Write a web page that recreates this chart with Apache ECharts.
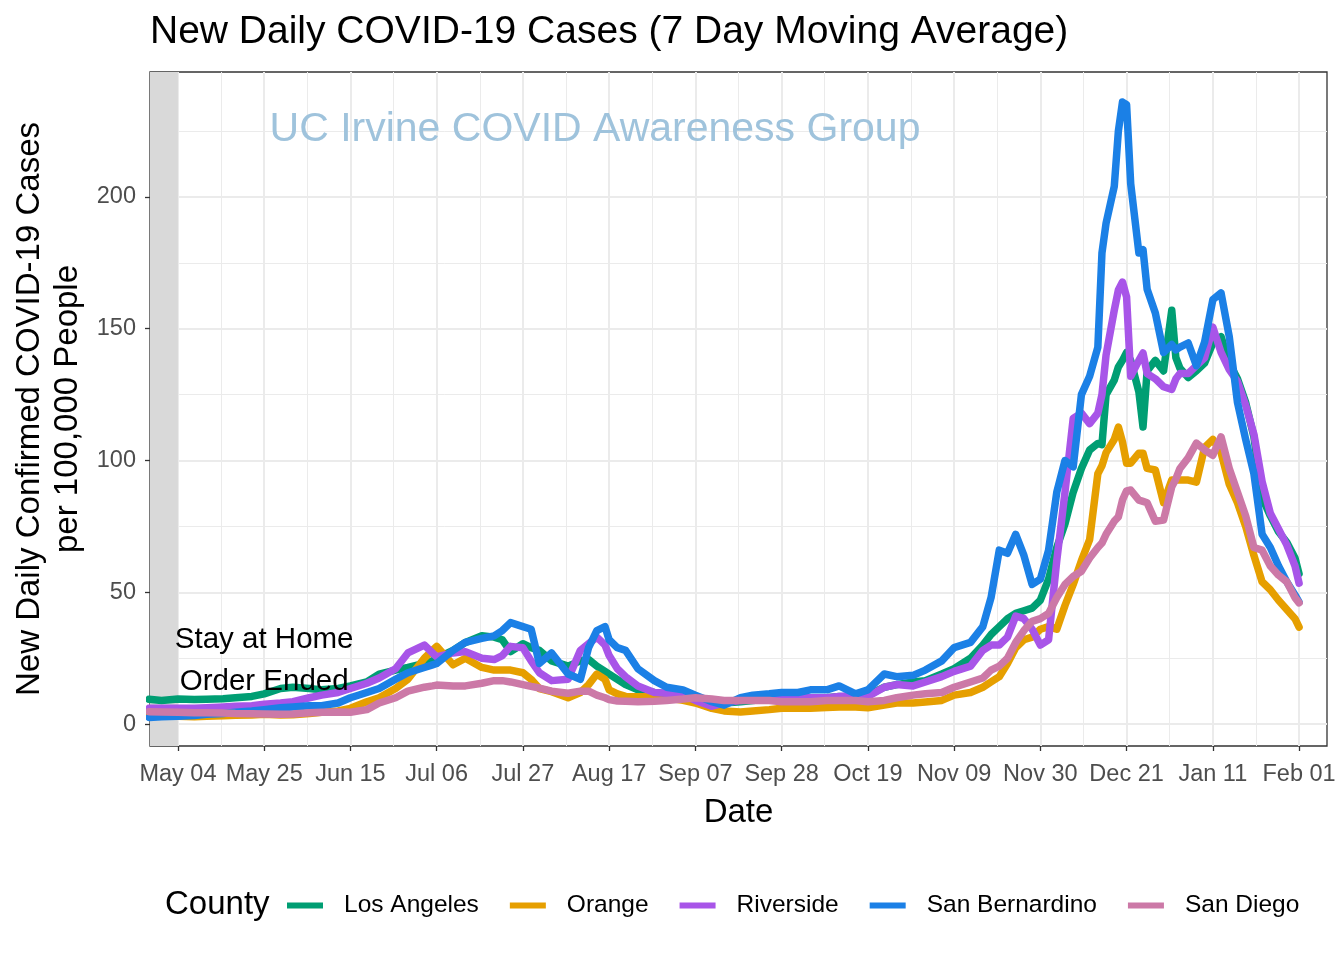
<!DOCTYPE html>
<html><head><meta charset="utf-8">
<script src="https://cdn.jsdelivr.net/npm/echarts@6/dist/echarts.min.js"></script>
<style>html,body{margin:0;padding:0;background:#fff}#c{width:1344px;height:960px}</style>
</head><body><div id="c"></div>
<script>
// Days since 2020-05-04 (x categories)
const days = [-7,-4,0,4,7,11,14,18,21,25,28,32,35,39,42,46,49,53,56,60,62,63,67,70,74,77,79,81,84,86,88,91,95,98,100,102,104,105,107,109,112,116,119,123,126,130,133,137,140,144,147,151,154,158,161,165,168,172,175,179,182,186,189,193,196,198,200,202,204,206,208,210,212,214,216,218,220,222,224,225,226,228,229,230,231,232,234,235,236,238,240,242,243,244,246,248,250,252,254,256,258,260,262,264,266,268,270,272,273];

const losAngeles = [9.4,9,9.5,9.3,9.4,9.6,10,10.5,11.5,13.5,
14,13.5,13,13.5,14.5,16,19,20.5,21.5,23,
24,25,28,31,33.5,33,32,27.5,30.5,29,
28,24,22,24,24.5,22,20,19,17,15,
13,12,11.5,10.5,9.5,8.5,8,8.5,9,9.5,
10,10,10,10,10.5,10,11,14,15,16,
16.5,19,21,25,30,34,37,40,42,43,
44,47,55,67,76,88,97,104,106.5,106,
125,130.5,135.5,138,141,138,126,112.7,134,138,
134,157,139,135,131.5,134,137,144.6,147,137,
131,122,109,86,79,73,69,63,57];

const orange = [3,3,3,2.8,3,3.2,3.4,3.5,3.7,3.5,
3.6,4,4.5,5,6,8.5,10,13.5,17,25,
28,29.5,22.5,25,21.5,20.5,20.5,20.5,19.5,17,
13.5,12.3,10,12,15,19,17,13,11.5,10.5,
10.4,10.4,10,9,8,6,5,4.6,5,5.5,
6,6,6,6.3,6.5,6.5,6.2,7.2,8,8,
8.4,9,11,12,14,16,18,23,29,32,
33,36,37,36,45,53,62,70,95,98,
103,108,112.7,107,99,99,102.8,102.8,97,96.4,
84,92.6,92.6,92.6,92.6,91.8,105,108,103,91,
84,75,64,54,51,47,43.5,40,36.8];

const riverside = [6,6,6,6,6.2,6.5,6.8,7,7.5,8,
8.5,10,11,12,13.5,15.5,17.5,21,27,30,
27,25.5,27,27.5,25,24.5,26,29.5,29,24,
19.5,16.5,17,28,30.5,33,30,26,21,18,
14.5,12,11.7,11,9,6.8,8,9,9.5,9.5,
10,10,10,10,10.5,11,10.5,14,15,14.5,
16,18,20,22,28,30,30,33,41,40,
36,30,32,62,88,116,118,114,118,125,
140,157,164.7,167.7,162,132,138,140.8,133,131,
128,127,131,133,133,136,139,150.6,141,134.5,
130,121,110,92,80,74,68,60,53.5];

const sanBernardino = [2.5,2.8,3,3.3,3.7,4,4.5,5,5.5,6.2,
6.5,7,7,8,10,12,13.5,17,19.5,21.5,
22.5,23,28,31,32.5,33.5,35.5,38.5,37,36,
23,27,19,17,29,35.5,37,32,29,28,
21,16.5,14,13,11,8.5,7.2,10,11,11.5,
12,12,13,13,14.5,11.5,13,19,18,18.5,
20.5,24,29,31,37,48,66,64.8,72,64,
53,55,66,88,100,97.6,125,132,143,178.7,
190,204,225,236,235,205,178.7,180,165,156,
141,144,142,143,144.6,136,145,161,163.6,147,
122,108,95,72,67,60,54,49,46.3];

const sanDiego = [4.7,4.6,4.5,4.3,4.3,4.2,4,3.9,3.8,3.7,
3.8,4.3,4.5,4.6,4.5,5.5,8,10,12.5,14,
14.5,14.8,14.5,14.5,15.5,16.5,16.5,16,15,14.3,
13.7,12.5,11.7,12.5,12.5,11,10,9.3,8.8,8.7,
8.5,8.7,9,9.5,10,9.5,9,9,9,9,
8.5,8.5,8.5,9,9,9,8.5,9,10,11,
11.5,12,14,16,17.5,20.5,22,25,31,35.5,
39,40,42,48,53,56,58,63,67,68.7,
72,77,78.6,85,88.5,88.8,85,84.5,84,77,
77.4,90,93,97,101,106.6,104,102,109,97,
88,79,67,66,60,56.5,54,48,46];

const counties = ['Los Angeles','Orange','Riverside','San Bernardino','San Diego'];
const seriesValues = [losAngeles, orange, riverside, sanBernardino, sanDiego];
const colors = ['#009E73','#E69F00','#A855E8','#1B80E6','#CC79A7'];

const xTickDays = [0,21,42,63,84,105,126,147,168,189,210,231,252,273];
const xTickLabels = ['May 04','May 25','Jun 15','Jul 06','Jul 27','Aug 17','Sep 07','Sep 28','Oct 19','Nov 09','Nov 30','Dec 21','Jan 11','Feb 01'];
const yTicks = [0,50,100,150,200];
const yMinorTicks = [25,75,125,175,225];

const X_MIN = -6.8, X_MAX = 279.8, Y_MIN = -8.3, Y_MAX = 247.4;
const xMinorTicks = xTickDays.map(d => d + 10.5).filter(d => d < X_MAX);
const FONT = '"Liberation Sans", Arial, Helvetica, sans-serif';

const chart = echarts.init(document.getElementById('c'));

const series = counties.map((name, i) => ({
  name, type: 'line', symbol: 'none', smooth: false, clip: true,
  xAxisIndex: 0, yAxisIndex: 0,
  lineStyle: { color: colors[i], width: 7.5, cap: 'round', join: 'round' },
  itemStyle: { color: colors[i] },
  data: days.map((d, k) => [d, seriesValues[i][k]])
}));

series[0].markArea = {
  silent: true,
  itemStyle: { color: '#d9d9d9' },
  data: [[{ xAxis: X_MIN }, { xAxis: 0 }]]
};
series[4].markPoint = {
  silent: true,
  symbol: 'circle', symbolSize: 0,
  label: {
    show: true, position: 'inside', formatter: 'Stay at Home\nOrder Ended',
    fontFamily: FONT, fontSize: 29.5, lineHeight: 42, color: '#000'
  },
  data: [{ coord: [21, 24] }]
};

const option = {
  animation: false,
  backgroundColor: '#fff',
  title: {
    text: 'New Daily COVID-19 Cases (7 Day Moving Average)',
    left: 150, top: 13, padding: 0,
    textStyle: { fontFamily: FONT, fontSize: 39, fontWeight: 'normal', color: '#000' }
  },
  grid: { left: 150, right: 17, top: 72, bottom: 214, show: true, borderColor: '#333333', borderWidth: 1.3, backgroundColor: 'transparent' },
  xAxis: [{
    type: 'value', min: X_MIN, max: X_MAX, position: 'bottom',
    axisLine: { show: false, onZero: false },
    axisTick: { show: true, inside: false, customValues: xTickDays, length: 5, lineStyle: { color: '#333333', width: 1.3 } },
    axisLabel: { customValues: xTickDays, interval: 0, hideOverlap: false, margin: 17,
      formatter: v => { const i = xTickDays.indexOf(v); return i >= 0 ? xTickLabels[i] : ''; },
      fontFamily: FONT, fontSize: 23.5, color: '#4d4d4d' },
    splitLine: { show: true, lineStyle: { color: '#ebebeb', width: 2 } },
    name: 'Date', nameLocation: 'middle', nameGap: 50,
    nameTextStyle: { fontFamily: FONT, fontSize: 33, color: '#000' }
  }, {
    type: 'value', min: X_MIN, max: X_MAX, position: 'top',
    axisLine: { show: false, onZero: false }, axisLabel: { show: false },
    axisTick: { show: false, customValues: xMinorTicks },
    splitLine: { show: true, lineStyle: { color: '#ebebeb', width: 1 } }
  }],
  yAxis: [{
    type: 'value', min: Y_MIN, max: Y_MAX, position: 'left',
    axisLine: { show: false, onZero: false },
    axisTick: { show: true, inside: false, customValues: yTicks, length: 5, lineStyle: { color: '#333333', width: 1.3 } },
    axisLabel: { customValues: yTicks, margin: 14, fontFamily: FONT, fontSize: 23.5, color: '#4d4d4d' },
    splitLine: { show: true, lineStyle: { color: '#ebebeb', width: 2 } }
  }, {
    type: 'value', min: Y_MIN, max: Y_MAX, position: 'right',
    axisLine: { show: false, onZero: false }, axisLabel: { show: false },
    axisTick: { show: false, customValues: yMinorTicks },
    splitLine: { show: true, lineStyle: { color: '#ebebeb', width: 1 } }
  }],
  legend: {
    data: counties, left: 287, top: 893, padding: 0,
    icon: 'rect', itemWidth: 36, itemHeight: 6, itemGap: 31,
    textStyle: { fontFamily: FONT, fontSize: 24.5, color: '#000', padding: [0, 0, 0, 16] }
  },
  graphic: [
    { type: 'text', x: 49, y: 409, rotation: Math.PI / 2,
      style: { text: 'New Daily Confirmed COVID-19 Cases\nper 100,000 People', fontFamily: FONT, fontSize: 33, lineHeight: 38,
        fill: '#000', textAlign: 'center', textVerticalAlign: 'middle', align: 'center', verticalAlign: 'middle' } },
    { type: 'text', x: 165, y: 905,
      style: { text: 'County', fontFamily: FONT, fontSize: 33, fill: '#000', textVerticalAlign: 'middle', verticalAlign: 'middle' } },
    { type: 'text', x: 595, y: 130, z: 50,
      style: { text: 'UC Irvine COVID Awareness Group', fontFamily: FONT, fontSize: 41, fill: '#9fc3dc',
        textAlign: 'center', align: 'center', textVerticalAlign: 'middle', verticalAlign: 'middle' } }
  ],
  series
};
chart.setOption(option);
</script></body></html>
